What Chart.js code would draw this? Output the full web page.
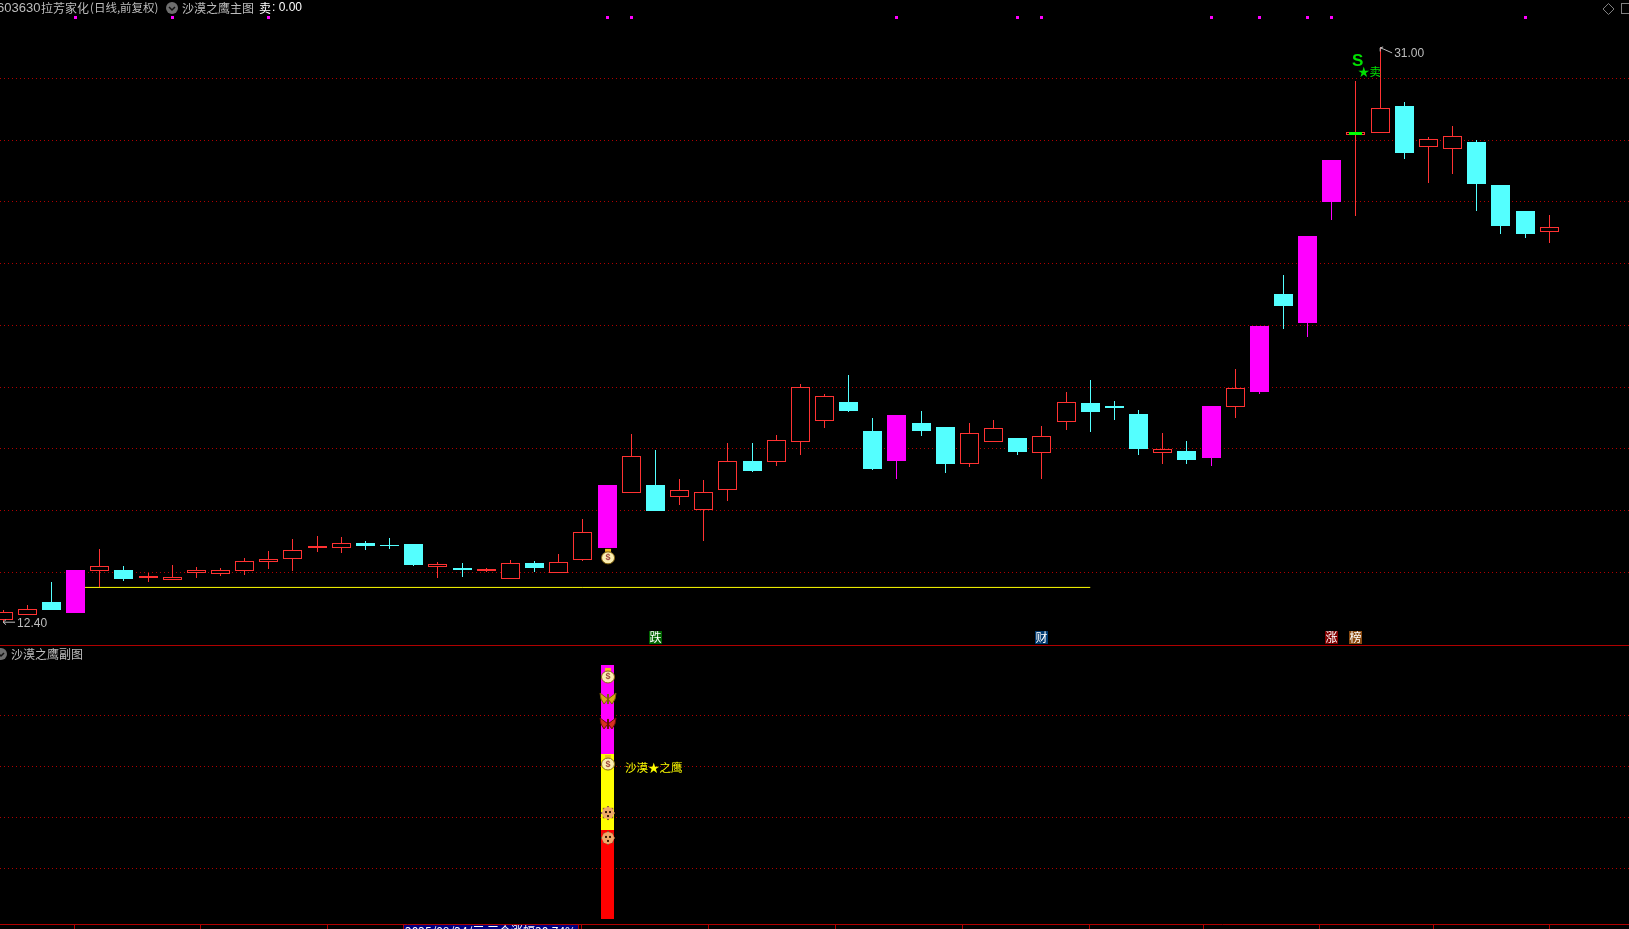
<!DOCTYPE html>
<html>
<head>
<meta charset="utf-8">
<title>603630</title>
<script src="https://cdn.jsdelivr.net/npm/chart.js@4/dist/chart.umd.min.js"></script>
<style>
html, body { margin: 0; padding: 0; background: #000; overflow: hidden; }
canvas { display: block; }
</style>
</head>
<body>
<canvas id="klineChart" width="1629" height="929"></canvas>
<script>
// daily bars
const candleOpen = [12.44,12.63,13.04,12.68,14.05,14.07,13.82,13.76,13.99,13.95,14.05,14.34,14.44,14.80,14.80,14.95,14.88,14.92,14.18,14.14,14.04,13.79,14.30,13.97,14.41,14.79,16.58,16.83,16.45,16.03,16.67,17.59,17.58,18.23,18.91,19.51,18.58,17.60,18.83,18.71,17.52,18.23,18.35,17.87,18.88,19.48,19.39,19.13,17.86,17.93,17.70,19.35,19.84,23.01,22.07,25.99,28.16,28.24,29.10,27.78,27.72,27.94,26.54,25.70,25.03];
const candleClose = [12.73,12.80,12.78,14.07,14.19,13.78,13.88,13.84,14.06,14.09,14.36,14.42,14.71,14.85,14.94,14.85,14.85,14.24,14.26,14.07,14.11,14.29,14.14,14.32,15.30,16.83,17.76,15.99,16.66,16.59,17.59,17.28,18.28,19.99,19.70,19.22,17.35,19.09,18.58,17.51,18.50,18.66,17.90,18.41,19.51,19.19,19.32,17.99,17.99,17.64,19.39,19.97,21.98,22.62,24.89,27.35,28.26,29.03,27.58,28.03,28.12,26.58,25.22,24.96,25.17];
const candleHigh = [12.78,12.93,13.69,14.07,14.75,14.20,13.98,14.23,14.16,14.15,14.45,14.69,15.07,15.18,15.14,15.01,15.11,14.92,14.33,14.30,14.14,14.40,14.37,14.59,15.73,16.83,18.48,17.96,17.02,16.99,18.19,18.19,18.45,20.10,19.77,20.39,18.99,19.09,19.22,18.71,18.83,18.93,18.35,18.74,19.84,20.23,19.55,19.26,18.51,18.25,19.39,20.58,21.98,23.63,24.89,27.35,29.91,31.00,29.23,28.10,28.45,28.00,26.54,25.70,25.57];
const candleLow = [12.40,12.63,12.78,12.68,13.51,13.71,13.68,13.76,13.82,13.88,13.91,14.11,14.04,14.66,14.62,14.73,14.75,14.20,13.82,13.85,14.00,13.79,14.01,13.97,14.37,14.79,16.58,15.99,16.18,15.01,16.31,17.24,17.44,17.80,18.67,19.19,17.31,17.02,18.41,17.22,17.41,18.23,17.80,17.02,18.61,18.54,18.93,17.80,17.51,17.51,17.44,18.99,19.77,21.88,21.62,25.41,25.54,28.24,27.39,26.61,26.90,25.70,24.96,24.83,24.67];
const limitUpBars = [3,25,37,50,52,54,55];
const topMarkBars = [3,7,11,25,26,37,42,43,50,52,54,55,63];
const topMarkRange = [31.92,32.02];
const sellMarkBar = 56;
const sellMarkRange = [28.16,28.26];
const supportBars = [3,45];
const supportPrice = [13.51,13.51];
const priceTicks = [14,16,18,20,22,24,26,28,30];
const dateTicks = [2.94,8.19,13.45,23.96,29.2,34.47,39.7,44.95,49.7,54.5,59.2,64];
// lower panel
const subBar = 25;
const subLow = [0,35,65];
const subHigh = [35,65,100];
const subColors = ['#ff0000','#ffff00','#ff00ff'];
const subTicks = [20,40,60,80];
const badgeBars = [27,43,55,56];
const badgeText = ['跌','财','涨','榜'];
const badgeColors = ['#006400','#003a70','#800000','#8a4a10'];

const RED = '#ff3232', CYAN = '#54ffff', MAGENTA = '#ff00ff', GRAY = '#bdbdbd', GRID = '#b00000';
const CJK = '"Noto Sans CJK SC"';
const LATIN = '"Liberation Sans"';

function barColor(i) {
    if (limitUpBars.includes(i)) return MAGENTA;
    return candleClose[i] >= candleOpen[i] ? RED : CYAN;
}
function bodyFill(i) {
    return barColor(i) === RED ? '#000000' : barColor(i);
}

const bars = candleOpen.map((v, i) => i);

// snap the bars to whole pixels, the original has hard edges
const snapBars = {
    id: 'snapBars',
    afterDatasetsUpdate(chart) {
        chart.getSortedVisibleDatasetMetas().forEach(meta => {
            if (meta.type !== 'bar') return;
            meta.data.forEach(el => {
                el.x = Math.floor(el.x) + (Math.round(el.width) % 2 ? 0.5 : 0);
                let top = Math.round(Math.min(el.y, el.base));
                let bottom = Math.round(Math.max(el.y, el.base));
                if (bottom <= top) bottom = top + 1;
                el.y = top;
                el.base = bottom;
                el.height = bottom - top;
            });
        });
    }
};

function text(ctx, str, x, y, font, color, align) {
    ctx.font = font;
    ctx.fillStyle = color;
    ctx.textAlign = align || 'left';
    ctx.textBaseline = 'middle';
    ctx.fillText(str, x, y);
}

function moneyBag(ctx, x, y) {
    ctx.fillStyle = '#f0c020';
    ctx.fillRect(x - 3, y - 8, 6, 3);
    ctx.beginPath();
    ctx.ellipse(x, y + 1, 6.5, 6, 0, 0, Math.PI * 2);
    ctx.fillStyle = '#fbeeb0';
    ctx.fill();
    ctx.strokeStyle = '#8a6a10';
    ctx.lineWidth = 1;
    ctx.stroke();
    text(ctx, '$', x, y + 1, 'bold 9px ' + LATIN, '#a04a40', 'center');
}

function butterfly(ctx, x, y, color, edge) {
    ctx.fillStyle = color;
    ctx.strokeStyle = edge;
    ctx.lineWidth = 1;
    [-1, 1].forEach(s => {
        ctx.beginPath();
        ctx.moveTo(x, y + 1);
        ctx.lineTo(x + s * 8, y - 5);
        ctx.lineTo(x + s * 7, y + 1);
        ctx.lineTo(x + s * 4, y + 6);
        ctx.closePath();
        ctx.fill();
        ctx.stroke();
    });
    ctx.fillStyle = edge;
    ctx.fillRect(x - 1, y - 4, 2, 10);
}

function face(ctx, x, y) {
    ctx.fillStyle = '#8a5a30';
    for (let k = 0; k < 8; k++) {
        const a = k * Math.PI / 4;
        ctx.fillRect(x + Math.cos(a) * 6 - 1, y + Math.sin(a) * 6 - 1, 2, 2);
    }
    ctx.beginPath();
    ctx.arc(x, y, 6, 0, Math.PI * 2);
    ctx.fillStyle = '#f0a868';
    ctx.fill();
    ctx.fillStyle = '#3a1a00';
    ctx.fillRect(x - 3, y - 2, 2, 2);
    ctx.fillRect(x + 1, y - 2, 2, 2);
    ctx.fillRect(x - 1, y + 2, 2, 2);
}

function roundBadge(ctx, x, y, r) {
    ctx.beginPath();
    ctx.arc(x, y, r, 0, Math.PI * 2);
    ctx.fillStyle = '#6e6e6e';
    ctx.fill();
    ctx.strokeStyle = '#111';
    ctx.lineWidth = 1.5;
    ctx.beginPath();
    ctx.moveTo(x - 3, y - 1);
    ctx.lineTo(x, y + 2);
    ctx.lineTo(x + 3, y - 1);
    ctx.stroke();
}

const decorations = {
    id: 'decorations',
    afterDatasetsDraw(chart) {
        const ctx = chart.ctx;
        const x = chart.scales.x, y = chart.scales.y, sub = chart.scales.ySub;
        ctx.save();

        // panel separator
        ctx.fillStyle = GRID;
        ctx.fillRect(0, Math.round(y.bottom), chart.width, 1);

        // header
        text(ctx, '603630', -3, 8, '13px ' + LATIN, GRAY);
        text(ctx, '拉芳家化', 41, 8, '12px ' + CJK, GRAY);
        text(ctx, '(日线,前复权)', 90, 8, '11.5px ' + CJK, GRAY);
        roundBadge(ctx, 172, 8, 6);
        text(ctx, '沙漠之鹰主图', 182, 8, '12px ' + CJK, GRAY);
        text(ctx, '卖', 259, 8, '12px ' + CJK, '#ffffff');
        text(ctx, ': 0.00', 272, 8, '12px ' + LATIN, '#ffffff');
        text(ctx, '沙漠之鹰副图', 11, 654, '12px ' + CJK, GRAY);
        roundBadge(ctx, 1, 654, 6);

        // top right window icons
        ctx.strokeStyle = '#808080';
        ctx.lineWidth = 1;
        ctx.beginPath();
        ctx.moveTo(1608.5, 3.5);
        ctx.lineTo(1614, 9);
        ctx.lineTo(1608.5, 14.5);
        ctx.lineTo(1603, 9);
        ctx.closePath();
        ctx.stroke();
        ctx.strokeRect(1621.5, 3.5, 12, 10);

        // low and high flags
        const lowX = x.getPixelForValue(0), lowY = y.getPixelForValue(12.40);
        ctx.strokeStyle = GRAY;
        ctx.beginPath();
        ctx.moveTo(lowX + 12, lowY + 0.5);
        ctx.lineTo(lowX, lowY + 0.5);
        ctx.moveTo(lowX + 3, lowY - 2);
        ctx.lineTo(lowX, lowY + 0.5);
        ctx.lineTo(lowX + 3, lowY + 3);
        ctx.stroke();
        text(ctx, '12.40', lowX + 14, lowY + 1.5, '12px ' + LATIN, GRAY);

        const highX = x.getPixelForValue(57), highY = y.getPixelForValue(31);
        ctx.beginPath();
        ctx.moveTo(highX + 12, highY + 5.5);
        ctx.lineTo(highX + 3, highY + 1.5);
        ctx.lineTo(highX, highY + 0.5);
        ctx.lineTo(highX, highY + 4);
        ctx.moveTo(highX, highY + 0.5);
        ctx.lineTo(highX + 3, highY - 0.5);
        ctx.stroke();
        text(ctx, '31.00', highX + 14, highY + 6, '12px ' + LATIN, GRAY);

        // sell signal
        text(ctx, 'S', x.getPixelForValue(56) - 4, y.getPixelForValue(30.55), 'bold 17px ' + LATIN, '#00e000');
        text(ctx, '★卖', x.getPixelForValue(56) + 2, y.getPixelForValue(30.2), '11.5px ' + CJK, '#00e000');

        // bar signals
        moneyBag(ctx, x.getPixelForValue(25) + 1, y.getPixelForValue(14.5));
        const cx = Math.floor(x.getPixelForValue(subBar)) + 1;
        moneyBag(ctx, cx, sub.getPixelForValue(95.7));
        butterfly(ctx, cx, sub.getPixelForValue(87), '#d8a818', '#806000');
        butterfly(ctx, cx, sub.getPixelForValue(77.2), '#d83020', '#701000');
        moneyBag(ctx, cx, sub.getPixelForValue(61.4));
        face(ctx, cx, sub.getPixelForValue(41.7));
        face(ctx, cx, sub.getPixelForValue(31.9));
        text(ctx, '沙漠★之鹰', cx + 17, sub.getPixelForValue(59.5), '11.5px ' + CJK, '#ffff00');

        // news badges along the bottom of the price panel
        badgeBars.forEach((b, i) => {
            const bx = Math.floor(x.getPixelForValue(b)) - 6;
            ctx.fillStyle = badgeColors[i];
            ctx.fillRect(bx, 631, 13, 13);
            text(ctx, badgeText[i], bx + 6.5, 637.5, '12px ' + CJK, '#ffffff', 'center');
        });

        // cursor date tag, cut by the window edge
        ctx.fillStyle = '#000080';
        ctx.fillRect(404, 925, 175, 4);
        ctx.fillStyle = GRID;
        ctx.fillRect(403, 925, 1, 4);
        ctx.fillRect(578, 925, 1, 4);
        ctx.fillRect(581, 925, 1, 4);
        ctx.font = '12px ' + CJK;
        ctx.fillStyle = '#ffffff';
        ctx.textAlign = 'left';
        ctx.textBaseline = 'top';
        ctx.fillText('2025/09/24/三 三个涨幅30.74%', 405, 925);

        ctx.restore();
    }
};

new Chart(document.getElementById('klineChart').getContext('2d'), {
    data: {
        datasets: [
            {
                type: 'bar',
                data: [{ x: sellMarkBar, y: sellMarkRange }],
                backgroundColor: '#00ff00',
                barThickness: 13,
                inflateAmount: 0,
                grouped: false,
                yAxisID: 'y'
            },
            {
                type: 'bar',
                data: bars.map(i => ({ x: i, y: [candleOpen[i], candleClose[i]] })),
                backgroundColor: bars.map(bodyFill),
                borderColor: bars.map(barColor),
                borderWidth: 1,
                borderSkipped: false,
                barThickness: 19,
                inflateAmount: 0,
                grouped: false,
                yAxisID: 'y'
            },
            {
                type: 'bar',
                data: bars.map(i => ({ x: i, y: [candleLow[i], candleHigh[i]] })),
                backgroundColor: bars.map(barColor),
                barThickness: 1,
                inflateAmount: 0,
                grouped: false,
                yAxisID: 'y'
            },
            {
                type: 'bar',
                data: topMarkBars.map(i => ({ x: i, y: topMarkRange })),
                backgroundColor: MAGENTA,
                barThickness: 3,
                inflateAmount: 0,
                grouped: false,
                yAxisID: 'y'
            },
            {
                type: 'line',
                data: supportBars.map((b, i) => ({ x: b, y: supportPrice[i] })),
                borderColor: '#ffff00',
                borderWidth: 1,
                pointRadius: 0,
                yAxisID: 'y'
            },
            {
                type: 'bar',
                data: subLow.map((v, i) => ({ x: subBar, y: [v, subHigh[i]] })),
                backgroundColor: subColors,
                barThickness: 13,
                inflateAmount: 0,
                grouped: false,
                yAxisID: 'ySub'
            }
        ]
    },
    options: {
        responsive: false,
        animation: false,
        events: [],
        layout: { padding: 0 },
        plugins: { legend: { display: false }, tooltip: { enabled: false }, title: { display: false } },
        scales: {
            x: {
                type: 'linear',
                offset: false,
                min: -0.1262,
                max: 67.3,
                afterBuildTicks: scale => { scale.ticks = dateTicks.map(v => ({ value: v })); },
                ticks: { display: false, autoSkip: false },
                grid: { offset: false, drawOnChartArea: false, drawTicks: true, tickLength: 5, color: GRID },
                border: { color: GRID, width: 1 }
            },
            ySub: {
                type: 'linear',
                position: 'left',
                stack: 'panels',
                stackWeight: 279,
                min: -2,
                max: 107.9,
                afterBuildTicks: scale => { scale.ticks = subTicks.map(v => ({ value: v })); },
                afterFit: scale => { scale.width = 0; },
                ticks: { display: false },
                grid: { color: GRID, drawTicks: false },
                border: { display: false, dash: [1, 3] }
            },
            y: {
                type: 'linear',
                position: 'left',
                stack: 'panels',
                stackWeight: 645,
                min: 11.645,
                max: 32.536,
                afterBuildTicks: scale => { scale.ticks = priceTicks.map(v => ({ value: v })); },
                afterFit: scale => { scale.width = 0; },
                ticks: { display: false },
                grid: { color: GRID, drawTicks: false },
                border: { display: false, dash: [1, 3] }
            }
        }
    },
    plugins: [snapBars, decorations]
});
</script>
</body>
</html>
